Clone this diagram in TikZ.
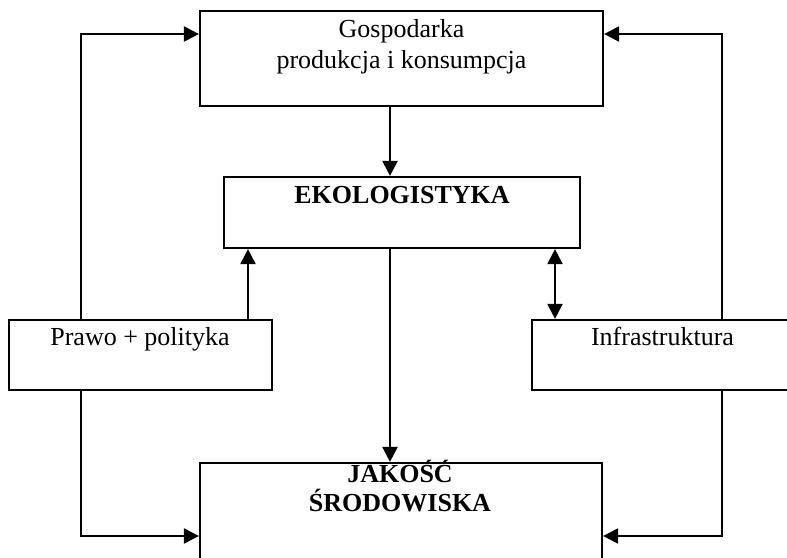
\documentclass[tikz,border=0pt]{standalone}
\usepackage{fontspec}
\setmainfont{Liberation Serif}
\usetikzlibrary{arrows.meta}
\begin{document}
\begin{tikzpicture}[x=1pt,y=-1pt,line width=2.2pt,>={Triangle[length=15pt,width=15pt]},
  box/.style={draw,rectangle,inner sep=0pt},
  txt/.style={align=center,inner sep=0pt,font=\fontsize{26}{31}\selectfont}] %boxes, texts on top of them
\useasboundingbox (0,0) rectangle (787,557);

\node[box,minimum width=403pt,minimum height=95pt] (gosp) at (401.5,58.5) {};
\node[box,minimum width=356pt,minimum height=71pt] (eko) at (402,212.5) {};
\node[box,minimum width=263pt,minimum height=70pt] (prawo) at (140.5,355) {};
\node[box,minimum width=261pt,minimum height=70pt] (infra) at (662.5,355) {};
\node[box,minimum width=402pt,minimum height=137pt] (jakosc) at (401,531.5) {};

\node[txt,anchor=base] (gosptxt) at (401.5,68) {Gospodarka\\produkcja i konsumpcja};
\node[txt,anchor=base,font=\fontsize{26}{31}\selectfont\bfseries] (ekotxt) at (402,203) {EKOLOGISTYKA};
\node[txt,anchor=base] (prawotxt) at (140,345) {Prawo + polityka};
\node[txt,anchor=base] (infratxt) at (662.5,345) {Infrastruktura};
\node[txt,anchor=base,font=\fontsize{26}{29}\selectfont\bfseries] (jaktxt) at (400,511) {JAKOŚĆ\\ŚRODOWISKA};

\coordinate (lx) at (81,0);
\coordinate (px) at (248,0);
\coordinate (mx) at (390,0);
\coordinate (ix) at (555,0);
\coordinate (rx) at (722,0);
\coordinate (top) at (0,34);
\coordinate (bot) at (0,536);

\draw[->] (prawo.north -| lx) |- (gosp.west |- top);
\draw[->] (prawo.north -| px) -- (eko.south -| px);
\draw[->] (prawo.south -| lx) |- (jakosc.west |- bot);
\draw[->] (gosp.south -| mx) -- (eko.north -| mx);
\draw[->] (eko.south -| mx) -- (jakosc.north -| mx);
\draw[<->] (eko.south -| ix) -- (infra.north -| ix);
\draw[->] (infra.north -| rx) |- (gosp.east |- top);
\draw[->] (infra.south -| rx) |- (jakosc.east |- bot);

\end{tikzpicture}
\end{document}
